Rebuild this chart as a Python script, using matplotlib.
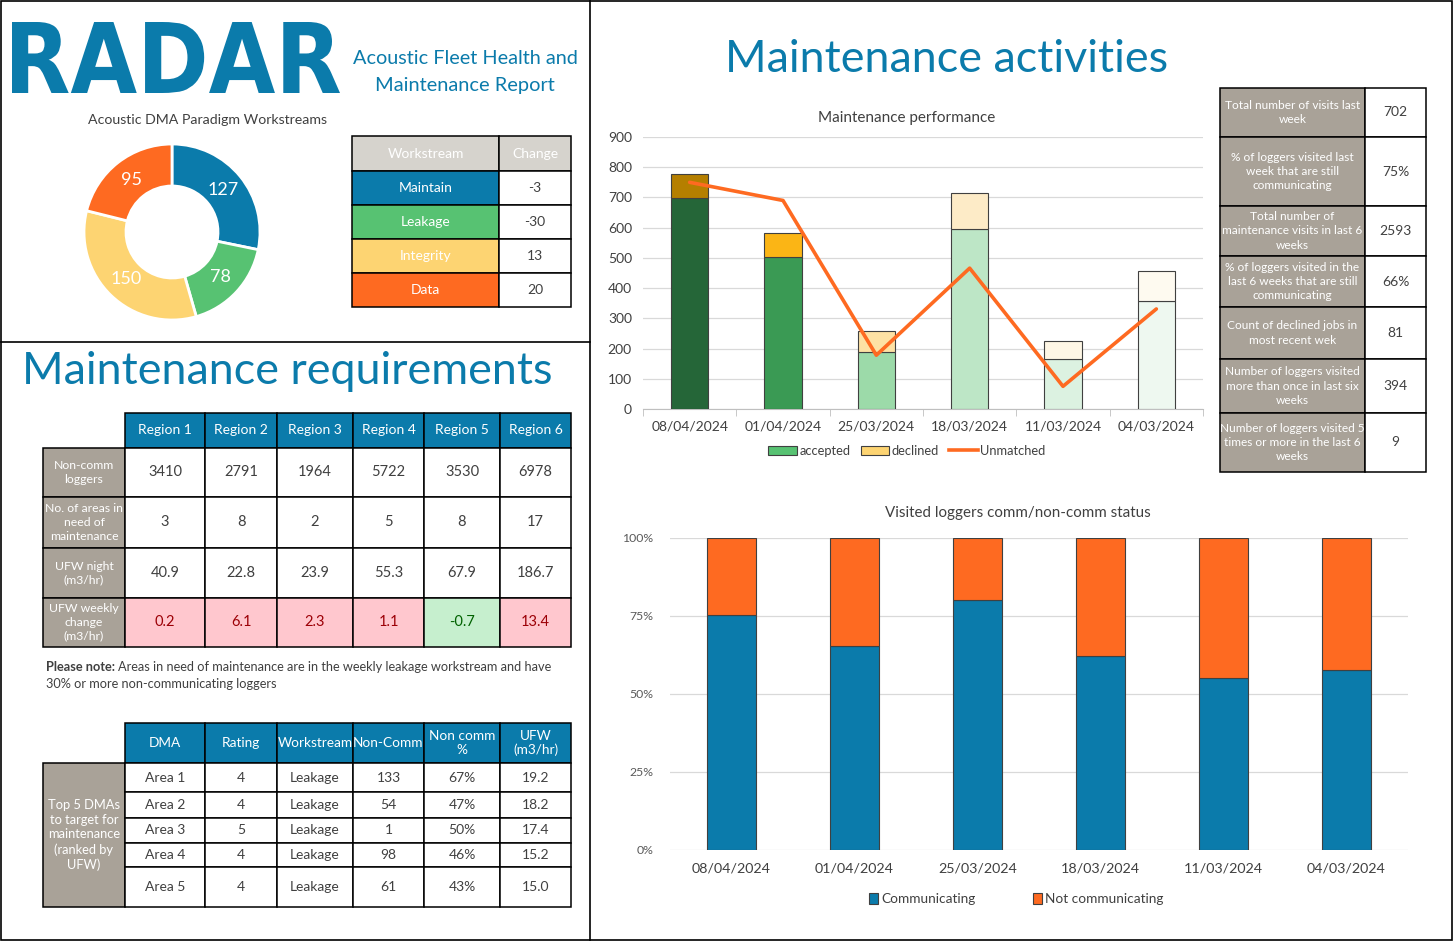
import matplotlib
matplotlib.use('Agg')
import matplotlib.pyplot as plt
from matplotlib.patches import Rectangle, PathPatch, Patch
from matplotlib.textpath import TextPath
from matplotlib.font_manager import FontProperties
from matplotlib.transforms import Affine2D
from matplotlib.lines import Line2D

W, H = 1454, 943
plt.rcParams['font.family'] = ['Lato', 'DejaVu Sans']

BLUE = '#0b7bab'; GREEN = '#57c272'; YELLOW = '#fdd472'; ORANGE = '#fe6a21'
GREY = '#a9a298'; HEADGREY = '#d6d3cd'; TXT = '#404040'

# ---------------- data ----------------
workstreams = ['Maintain', 'Leakage', 'Integrity', 'Data']
ws_counts = [127, 78, 150, 95]
ws_change = [-3, -30, 13, 20]
ws_colors = [BLUE, GREEN, YELLOW, ORANGE]

regions = ['Region 1', 'Region 2', 'Region 3', 'Region 4', 'Region 5', 'Region 6']
region_row_labels = ['Non-comm\nloggers', 'No. of areas in\nneed of\nmaintenance',
                     'UFW night\n(m3/hr)', 'UFW weekly\nchange\n(m3/hr)']
noncomm_loggers = [3410, 2791, 1964, 5722, 3530, 6978]
areas_need = [3, 8, 2, 5, 8, 17]
ufw_night = [40.9, 22.8, 23.9, 55.3, 67.9, 186.7]
ufw_change = [0.2, 6.1, 2.3, 1.1, -0.7, 13.4]

dma_cols = ['DMA', 'Rating', 'Workstream', 'Non-Comm', 'Non comm\n%', 'UFW\n(m3/hr)']
dma_label = 'Top 5 DMAs\nto target for\nmaintenance\n(ranked by\nUFW)'
dma_names = ['Area 1', 'Area 2', 'Area 3', 'Area 4', 'Area 5']
dma_rating = [4, 4, 5, 4, 4]
dma_ws = ['Leakage', 'Leakage', 'Leakage', 'Leakage', 'Leakage']
dma_noncomm = [133, 54, 1, 98, 61]
dma_pct = [67, 47, 50, 46, 43]
dma_ufw = [19.2, 18.2, 17.4, 15.2, 15.0]

weeks = ['08/04/2024', '01/04/2024', '25/03/2024', '18/03/2024', '11/03/2024', '04/03/2024']
accepted = [697, 502, 190, 594, 165, 356]
declined = [80, 79, 67, 122, 59, 99]
unmatched = [750, 690, 178, 466, 75, 331]
acc_colors = ['#256638', '#3a9a54', '#9cdaa9', '#bde6c6', '#dcf2e1', '#eef8f0']
dec_colors = ['#b57f00', '#fbb515', '#fde1a4', '#fdebc7', '#fef6e5', '#fefaf0']

communicating = [75.3, 65.5, 80.1, 62.2, 55.1, 57.6]
not_communicating = [100 - c for c in communicating]

stats_labels = ['Total number of visits last\nweek',
                '% of loggers visited last\nweek that are still\ncommunicating',
                'Total number of\nmaintenance visits in last 6\nweeks',
                '% of loggers visited in the\nlast 6 weeks that are still\ncommunicating',
                'Count of declined jobs in\nmost recent wek',
                'Number of loggers visited\nmore than once in last six\nweeks',
                'Number of loggers visited 5\ntimes or more in the last 6\nweeks']
stats_values = ['702', '75%', '2593', '66%', '81', '394', '9']

# ---------------- figure ----------------
fig = plt.figure(figsize=(W / 100, H / 100), dpi=100)
fig.patch.set_facecolor('white')
renderer = fig.canvas.get_renderer()

ax0 = fig.add_axes([0, 0, 1, 1])
ax0.set_xlim(0, W); ax0.set_ylim(H, 0); ax0.axis('off')


def fax(x0, y0, x1, y1):
    return [x0 / W, 1 - y1 / H, (x1 - x0) / W, (y1 - y0) / H]


def text_width(s, size, weight='normal'):
    t = fig.text(0, 0, s, fontsize=size, weight=weight)
    w = t.get_window_extent(renderer).width
    t.remove()
    return w


def fit_text(x, y, s, width, ha='center', va='center', weight='normal', **kw):
    w = text_width(s, 20, weight)
    size = 20 * width / w
    return ax0.text(x, y, s, fontsize=size, ha=ha, va=va, weight=weight, **kw)


def cell(x0, y0, x1, y1, text, fc='white', tc=TXT, size=9.5, weight='normal', lw=1.1, ls=1.1):
    ax0.add_patch(Rectangle((x0, y0), x1 - x0, y1 - y0, facecolor=fc, edgecolor='black', lw=lw, zorder=2))
    ax0.text((x0 + x1) / 2, (y0 + y1) / 2, text, ha='center', va='center', color=tc,
             fontsize=size, weight=weight, linespacing=ls, zorder=3)


# panel borders
ax0.add_patch(Rectangle((1, 1), 1451, 939, fill=False, edgecolor='black', lw=1.2))
ax0.plot([590, 590], [1, 940], color='black', lw=1.2)
ax0.plot([1, 590], [342, 342], color='black', lw=1.2)

# logo
tp = TextPath((0, 0), 'RADAR', prop=FontProperties(family='DejaVu Sans', weight='bold'))
bb = tp.get_extents()
tr = Affine2D().translate(-bb.x0, -bb.y0).scale(328 / bb.width, -71 / bb.height).translate(12, 93)
ax0.add_patch(PathPatch(tr.transform_path(tp), facecolor=BLUE, edgecolor='none'))

fit_text(465, 58, 'Acoustic Fleet Health and', 226, color=BLUE)
fit_text(465, 86, 'Maintenance Report', 180, color=BLUE)

# big titles
fit_text(947, 60, 'Maintenance activities', 445, color=BLUE)
fit_text(287, 372, 'Maintenance requirements', 533, color=BLUE)

# chart titles
fit_text(207, 120, 'Acoustic DMA Paradigm Workstreams', 239, color=TXT)
fit_text(907, 118, 'Maintenance performance', 177, color=TXT)
fit_text(1018, 513, 'Visited loggers comm/non-comm status', 265, color=TXT)

# ---------------- donut ----------------
cx, cy, R = 172, 232, 88
axd = fig.add_axes(fax(cx - 95, cy - 95, cx + 95, cy + 95))
total = sum(ws_counts)
axd.pie(ws_counts, colors=ws_colors, startangle=90, counterclock=False, radius=R,
        wedgeprops=dict(width=42, edgecolor='white', linewidth=2),
        autopct=lambda p: f'{round(p * total / 100)}', pctdistance=0.75,
        textprops=dict(color='white', fontsize=13))
axd.set_xlim(-95, 95); axd.set_ylim(-95, 95); axd.set_aspect('equal'); axd.axis('off')

# workstream table
wcols = [352, 499, 571]
wrows = [136, 171, 205, 239, 273, 307]
cell(wcols[0], wrows[0], wcols[1], wrows[1], 'Workstream', fc=HEADGREY, tc='white', size=10)
cell(wcols[1], wrows[0], wcols[2], wrows[1], 'Change', fc=HEADGREY, tc='white', size=10)
for i, (nm, ch, c) in enumerate(zip(workstreams, ws_change, ws_colors)):
    cell(wcols[0], wrows[i + 1], wcols[1], wrows[i + 2], nm, fc=c, tc='white', size=10)
    cell(wcols[1], wrows[i + 1], wcols[2], wrows[i + 2], str(ch), size=10)

# region table
rcols = [125, 205, 277, 353, 424, 500, 571]
rrows = [413, 448, 497, 548, 598, 647]
for j, r in enumerate(regions):
    cell(rcols[j], rrows[0], rcols[j + 1], rrows[1], r, fc=BLUE, tc='white', size=10)
row_vals = [[str(v) for v in noncomm_loggers], [str(v) for v in areas_need],
            [f'{v:.1f}' for v in ufw_night], [f'{v:.1f}' for v in ufw_change]]
for i, lab in enumerate(region_row_labels):
    cell(43, rrows[i + 1], rcols[0], rrows[i + 2], lab, fc=GREY, tc='white', size=8.8, ls=1.3)
    for j in range(6):
        fc, tc = 'white', TXT
        if i == 3:
            if ufw_change[j] > 0:
                fc, tc = '#ffc7ce', '#9c0006'
            else:
                fc, tc = '#c6efce', '#006100'
        cell(rcols[j], rrows[i + 1], rcols[j + 1], rrows[i + 2], row_vals[i][j], fc=fc, tc=tc, size=10.5)

# note
nb = 'Please note:'
ax0.text(46, 667, nb, fontsize=9.2, weight='bold', color=TXT, va='center')
wb = text_width(nb + ' ', 9.2, 'bold')
ax0.text(46 + wb, 667, 'Areas in need of maintenance are in the weekly leakage workstream and have',
         fontsize=9.2, color=TXT, va='center')
ax0.text(46, 684, '30% or more non-communicating loggers', fontsize=9.2, color=TXT, va='center')

# DMA table
drows = [723, 763, 792, 818, 843, 867, 907]
for j, c in enumerate(dma_cols):
    cell(rcols[j], drows[0], rcols[j + 1], drows[1], c, fc=BLUE, tc='white', size=9.8)
cell(43, drows[1], rcols[0], drows[-1], dma_label, fc=GREY, tc='white', size=9.3, ls=1.25)
for i in range(5):
    vals = [dma_names[i], str(dma_rating[i]), dma_ws[i], str(dma_noncomm[i]),
            f'{dma_pct[i]}%', f'{dma_ufw[i]:.1f}']
    for j, v in enumerate(vals):
        cell(rcols[j], drows[i + 1], rcols[j + 1], drows[i + 2], v, size=10)

# stats table
scols = [1220, 1365, 1426]
srows = [88, 137, 206, 256, 307, 359, 413, 472]
for i, (lab, v) in enumerate(zip(stats_labels, stats_values)):
    cell(scols[0], srows[i], scols[1], srows[i + 1], lab, fc=GREY, tc='white', size=8.6, ls=1.35)
    cell(scols[1], srows[i], scols[2], srows[i + 1], v, size=10)

# ---------------- maintenance performance chart ----------------
ax1 = fig.add_axes(fax(643, 137, 1203, 409))
ax1.set_facecolor('none')
x = list(range(len(weeks)))
ax1.bar(x, accepted, width=0.4, color=acc_colors, edgecolor='#404040', lw=0.8, zorder=3)
ax1.bar(x, declined, bottom=accepted, width=0.4, color=dec_colors, edgecolor='#404040', lw=0.8, zorder=3)
ax1.plot(x, unmatched, color=ORANGE, lw=2.6, zorder=4, solid_capstyle='round')
ax1.set_ylim(0, 900); ax1.set_xlim(-0.5, 5.5)
ax1.set_yticks(range(0, 901, 100))
ax1.set_xticks(x); ax1.set_xticklabels(weeks)
ax1.set_xticks([i - 0.5 for i in range(7)], minor=True)
ax1.tick_params(axis='x', which='major', length=0, labelsize=10, labelcolor=TXT, pad=8)
ax1.tick_params(axis='x', which='minor', length=5, color='#bfbfbf')
ax1.tick_params(axis='y', length=0, labelsize=10, labelcolor=TXT, pad=8)
ax1.grid(axis='y', color='#d9d9d9', lw=0.9, zorder=0)
for s in ['top', 'right', 'left']:
    ax1.spines[s].set_visible(False)
ax1.spines['bottom'].set_color('#bfbfbf')
h1 = [Patch(facecolor=GREEN, edgecolor='#404040', lw=0.8, label='accepted'),
      Patch(facecolor=YELLOW, edgecolor='#404040', lw=0.8, label='declined'),
      Line2D([0], [0], color=ORANGE, lw=2.6, label='Unmatched')]
fig.legend(handles=h1, loc='center', bbox_to_anchor=(907 / W, 1 - 451 / H), ncol=3, frameon=False,
           fontsize=9.3, handlelength=2.2, handletextpad=0.2, columnspacing=0.8, labelcolor=TXT)

# ---------------- comm status chart ----------------
ax2 = fig.add_axes(fax(670, 538, 1408, 850))
ax2.set_facecolor('none')
ax2.bar(x, communicating, width=0.4, color=BLUE, edgecolor='#404040', lw=0.8, zorder=3)
ax2.bar(x, not_communicating, bottom=communicating, width=0.4, color=ORANGE, edgecolor='#404040', lw=0.8, zorder=3)
ax2.set_ylim(0, 100); ax2.set_xlim(-0.5, 5.5)
ax2.set_yticks([0, 25, 50, 75, 100])
ax2.set_yticklabels(['0%', '25%', '50%', '75%', '100%'])
ax2.set_xticks(x); ax2.set_xticklabels(weeks)
ax2.tick_params(axis='x', length=0, labelsize=10.3, labelcolor=TXT, pad=9)
ax2.tick_params(axis='y', length=0, labelsize=8.8, labelcolor='#595959', pad=12)
ax2.grid(axis='y', color='#d9d9d9', lw=0.9, zorder=0)
for s in ax2.spines.values():
    s.set_visible(False)
h2 = [Patch(facecolor=BLUE, edgecolor='#404040', lw=0.8, label='Communicating'),
      Patch(facecolor=ORANGE, edgecolor='#404040', lw=0.8, label='Not communicating')]
fig.legend(handles=h2, loc='center', bbox_to_anchor=(1016 / W, 1 - 899 / H), ncol=2, frameon=False,
           fontsize=9.8, handlelength=0.7, handleheight=0.9, handletextpad=0.2, columnspacing=4.2,
           labelcolor=TXT)

fig.savefig('out.png', dpi=100, facecolor='white')
